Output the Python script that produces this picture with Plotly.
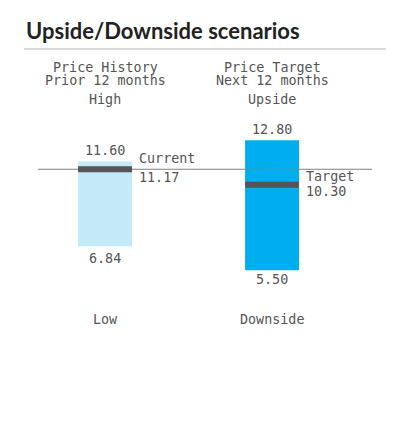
import plotly.graph_objects as go

# ---- data ----
groups = ["Price History", "Price Target"]
subtitles = ["Prior 12 months", "Next 12 months"]
top_labels = ["High", "Upside"]
bottom_labels = ["Low", "Downside"]
highs = [11.60, 12.80]
lows = [6.84, 5.50]
marks = [11.17, 10.30]
mark_names = ["Current", "Target"]
current_price = 11.17
bar_colors = ["#c4eaf9", "#00adef"]

W, H = 413, 443
FONT = "DejaVu Sans Mono"
FS = 13.4
TXT = "#555555"

def px(x):
    return x / W

def py(y):
    return 1 - y / H

xs = [0, 1]
bw = 0.323

fig = go.Figure()
fig.add_trace(go.Bar(
    x=xs, y=[h - l for h, l in zip(highs, lows)], base=lows,
    width=bw, marker=dict(color=bar_colors, line=dict(width=0)),
    hoverinfo="skip", showlegend=False,
))

shapes = []
# current price line
shapes.append(dict(type="line", xref="x", yref="y", x0=-0.401, x1=1.599,
                   y0=current_price, y1=current_price,
                   line=dict(color="#808080", width=1.2)))
# marker lines
for x, m in zip(xs, marks):
    shapes.append(dict(type="line", xref="x", yref="y", x0=x - bw / 2, x1=x + bw / 2,
                       y0=m, y1=m, line=dict(color="#555555", width=6)))
# title rule
shapes.append(dict(type="line", xref="paper", yref="paper", x0=px(24), x1=px(386),
                   y0=py(49), y1=py(49), line=dict(color="#cccccc", width=1.5)))

ann = []
ann.append(dict(text="<b>Upside/Downside scenarios</b>", xref="paper", yref="paper",
                x=px(24), y=py(31), xanchor="left", yanchor="middle", showarrow=False,
                font=dict(family="Lato", size=22, color="#222222")))

header_y = [68, 81, 99]
for i, x in enumerate(xs):
    for t, yy in zip([groups[i], subtitles[i], top_labels[i]], header_y):
        ann.append(dict(text=t, xref="x", yref="paper", x=x, y=py(yy),
                        xanchor="center", yanchor="middle", showarrow=False,
                        font=dict(family=FONT, size=FS, color=TXT)))
    ann.append(dict(text=bottom_labels[i], xref="x", yref="paper", x=x, y=py(319),
                    xanchor="center", yanchor="middle", showarrow=False,
                    font=dict(family=FONT, size=FS, color=TXT)))

hi_shift = [11, 11]
lo_shift = [-12, -9]
for i, x in enumerate(xs):
    ann.append(dict(text=f"{highs[i]:.2f}", xref="x", yref="y", x=x, y=highs[i],
                    yshift=hi_shift[i], xanchor="center", yanchor="middle", showarrow=False,
                    font=dict(family=FONT, size=FS, color=TXT)))
    ann.append(dict(text=f"{lows[i]:.2f}", xref="x", yref="y", x=x, y=lows[i],
                    yshift=lo_shift[i], xanchor="center", yanchor="middle", showarrow=False,
                    font=dict(family=FONT, size=FS, color=TXT)))

name_shift = [11, 8]
val_shift = [-8, -7]
for i, x in enumerate(xs):
    ann.append(dict(text=mark_names[i], xref="x", yref="y", x=x + bw / 2, y=marks[i],
                    xshift=5, yshift=name_shift[i], xanchor="left", yanchor="middle",
                    showarrow=False, font=dict(family=FONT, size=FS, color=TXT)))
    ann.append(dict(text=f"{marks[i]:.2f}", xref="x", yref="y", x=x + bw / 2, y=marks[i],
                    xshift=5, yshift=val_shift[i], xanchor="left", yanchor="middle",
                    showarrow=False, font=dict(family=FONT, size=FS, color=TXT)))

fig.update_layout(
    width=W, height=H,
    margin=dict(l=0, r=0, t=0, b=0),
    paper_bgcolor="white", plot_bgcolor="white",
    xaxis=dict(range=[-0.629, 1.844], visible=False, fixedrange=True),
    yaxis=dict(range=[-4.21, 20.68], visible=False, fixedrange=True),
    shapes=shapes, annotations=ann, showlegend=False,
)

fig.write_html("out.html", config={"displayModeBar": False})
